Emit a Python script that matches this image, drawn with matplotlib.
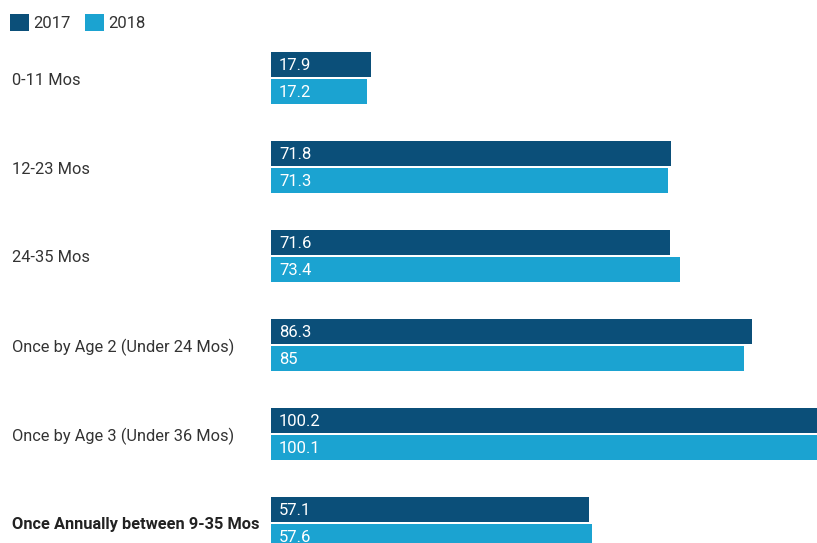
import matplotlib
matplotlib.use("Agg")
import matplotlib.pyplot as plt
from matplotlib.patches import Patch
import numpy as np

categories = ["0-11 Mos", "12-23 Mos", "24-35 Mos", "Once by Age 2 (Under 24 Mos)",
              "Once by Age 3 (Under 36 Mos)", "Once Annually between 9-35 Mos"]
v2017 = [17.9, 71.8, 71.6, 86.3, 100.2, 57.1]
v2018 = [17.2, 71.3, 73.4, 85, 100.1, 57.6]
labels2017 = ["17.9", "71.8", "71.6", "86.3", "100.2", "57.1"]
labels2018 = ["17.2", "71.3", "73.4", "85", "100.1", "57.6"]
series = ["2017", "2018"]

c17 = "#0b4f79"
c18 = "#1ba3d1"
W, H = 817, 543
plt.rcParams['font.family'] = ['Roboto', 'DejaVu Sans']
fig = plt.figure(figsize=(W/100, H/100), dpi=100)
ax = fig.add_axes([271/W, 0, 1 - 271/W, 1])

unit = 89.0
c0 = 78.0
y = np.arange(len(categories))
bh = 25.5/unit
off = 13.5/unit
ax.barh(y - off, v2017, height=bh, color=c17)
ax.barh(y + off, v2018, height=bh, color=c18)
ax.set_xlim(0, (W-271)/5.57)
ax.set_ylim((H - c0)/unit, -c0/unit)
ax.axis('off')

for i in range(len(categories)):
    ax.text(8/5.57, y[i] - off + 1/unit, labels2017[i], color='white', va='center', ha='left', fontsize=12)
    ax.text(8/5.57, y[i] + off + 1/unit, labels2018[i], color='white', va='center', ha='left', fontsize=12)
    ypix = c0 + unit*i + 2
    last = i == len(categories)-1
    fig.text(12/W, 1 - ypix/H, categories[i], va='center', ha='left', fontsize=11.8,
             color='#222222' if last else '#333333',
             fontweight='bold' if last else 'normal')

handles = [Patch(facecolor=c17), Patch(facecolor=c18)]
fig.legend(handles, series, loc='upper left', bbox_to_anchor=(10/W, 1 - 14/H), frameon=False,
           borderpad=0, borderaxespad=0,
           ncol=2, handlelength=1.15, handleheight=1.15, handletextpad=0.25, columnspacing=0.85,
           fontsize=12, labelcolor='#333333')
fig.savefig("out.png", dpi=100)
